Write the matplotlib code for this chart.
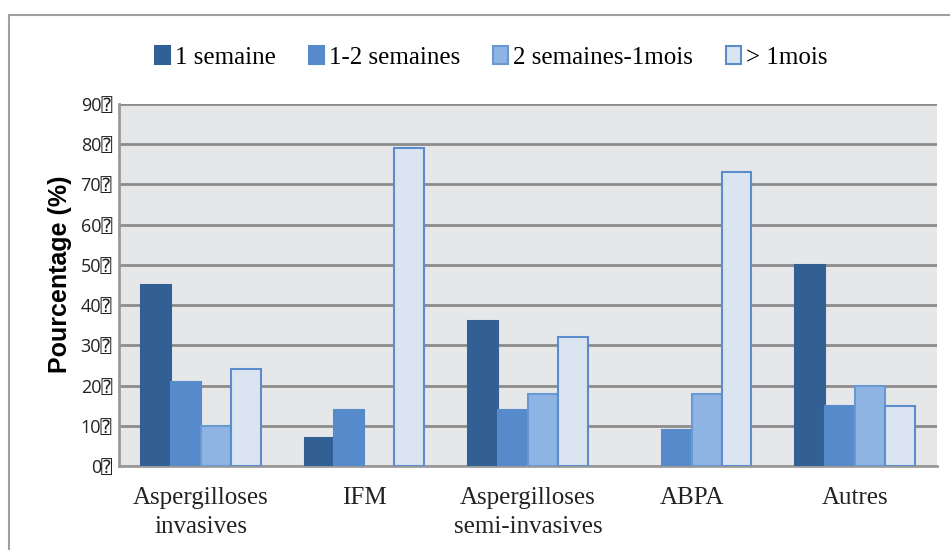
import matplotlib
matplotlib.use("Agg")
import matplotlib.pyplot as plt
import numpy as np
from matplotlib.patches import Rectangle

categories = ["Aspergilloses\ninvasives", "IFM", "Aspergilloses\nsemi-invasives", "ABPA", "Autres"]
series_names = ["1 semaine", "1-2 semaines", "2 semaines-1mois", "> 1mois"]
une_semaine = [45, 7, 36, 0, 50]
une_deux_semaines = [21, 14, 14, 9, 15]
deux_sem_un_mois = [10, 0, 18, 18, 20]
plus_un_mois = [24, 79, 32, 73, 15]
y_ticks = [0, 10, 20, 30, 40, 50, 60, 70, 80, 90]
y_tick_labels = [f"{v}\u2370" for v in y_ticks]

face_colors = ["#336094", "#578ACA", "#8EB4E3", "#DBE5F1"]
edge_colors = ["#336094", "#578ACA", "#6A98D2", "#5B8DCC"]

fig = plt.figure(figsize=(9.5, 5.5), dpi=100)
ax = fig.add_axes([0.1253, 0.1527, 0.8610, 0.6582])

# outer frame of the chart
fig.patches.append(Rectangle((0.0095, -0.05), 1.1, 1.0227, transform=fig.transFigure,
                             fill=False, edgecolor="#A0A0A0", linewidth=1.5))

x = np.arange(len(categories))
width = 0.183
data = [une_semaine, une_deux_semaines, deux_sem_un_mois, plus_un_mois]
for i, vals in enumerate(data):
    lw = [1.5 if v > 0 else 0 for v in vals]
    ax.bar(x + (i - 1.5) * width, vals, width, color=face_colors[i],
           edgecolor=edge_colors[i], linewidth=lw, label=series_names[i], zorder=3)

ax.set_facecolor("#E6E7E9")
ax.set_xlim(-0.5, 4.5)
ax.set_ylim(0, 90)
ax.set_yticks(y_ticks)
ax.set_yticklabels(y_tick_labels, family=["Open Sans", "DejaVu Sans", "DejaVu Sans Mono"],
                   fontsize=13, color="#222222")
ax.yaxis.grid(True, color="#8C8C8C", linewidth=2, zorder=1)
ax.set_axisbelow(True)
ax.tick_params(axis="y", length=0, pad=5)
ax.tick_params(axis="x", length=0, pad=15)
ax.set_xticks(x)
ax.set_xticklabels(categories, family="Liberation Serif", fontsize=18, color="#222222",
                   linespacing=1.4)
for side in ["top", "right"]:
    ax.spines[side].set_visible(False)
for side in ["left", "bottom"]:
    ax.spines[side].set_color("#9A9A9A")
    ax.spines[side].set_linewidth(2)
ax.set_ylabel("Pourcentage (%)", fontsize=18, fontweight="bold", family="Liberation Sans")
ax.yaxis.set_label_coords(-0.058, 0.53)

fig.legend(loc="center", bbox_to_anchor=(0.517, 0.896), ncol=4, frameon=False,
           prop={"family": "Liberation Serif", "size": 18}, handlelength=0.6,
           handleheight=0.75, handletextpad=0.2, columnspacing=1.33)

fig.savefig("out.png", dpi=100)
